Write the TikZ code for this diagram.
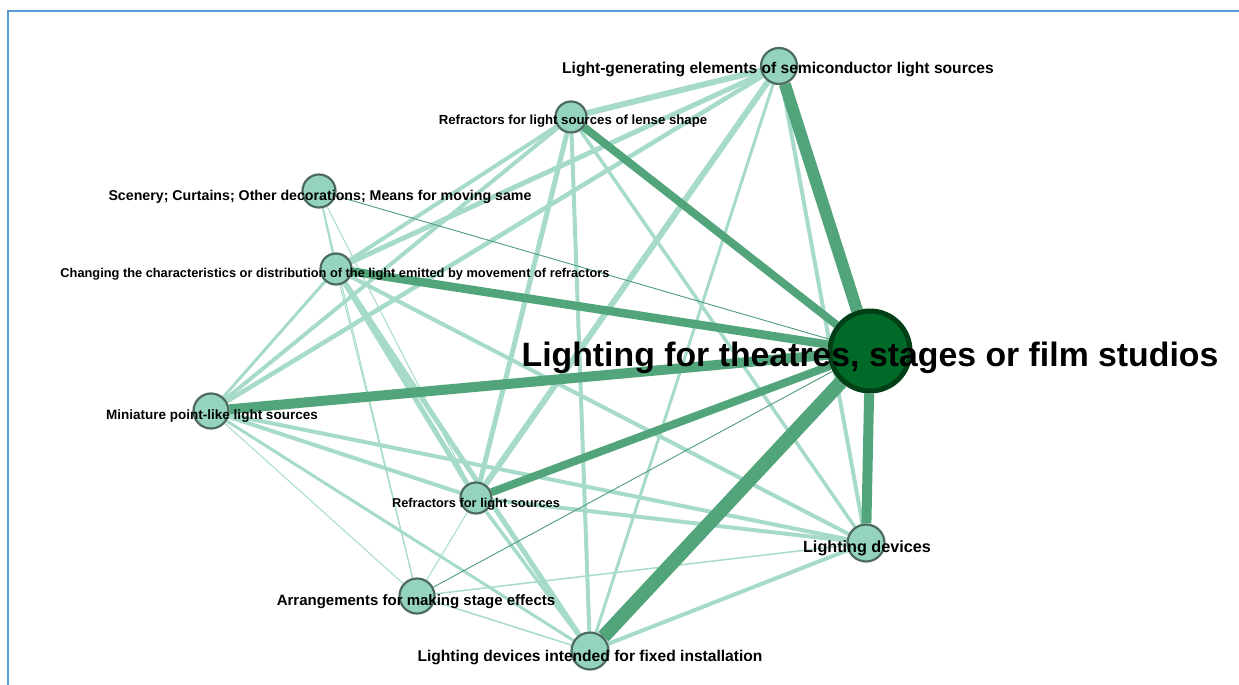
\documentclass[tikz,border=0pt]{standalone}
\usepackage{fontspec}
\setmainfont{Liberation Sans}
\usetikzlibrary{backgrounds}
\definecolor{framecol}{HTML}{5B9BD5}
\definecolor{edgelight}{HTML}{A6DBC9}
\definecolor{edgedark}{HTML}{52A47A}
\definecolor{edgethin}{HTML}{4E9C76}
\definecolor{nodefill}{HTML}{94D4BF}
\definecolor{nodeline}{HTML}{4D6A5E}
\definecolor{hubfill}{HTML}{006A28}
\definecolor{hubline}{HTML}{013F17}
\tikzset{
  nd/.style={circle, fill=nodefill, draw=nodeline, line width=2.2pt, inner sep=0pt, minimum size=#1},
  hub/.style={circle, fill=hubfill, draw=hubline, line width=5pt, inner sep=0pt, minimum size=80pt},
  lbl/.style={font=\bfseries\fontsize{#1}{#1}\selectfont, inner sep=0pt, text=black},
  lt/.style={draw=edgelight, line cap=butt},
  dk/.style={draw=edgedark, line cap=butt},
}
\begin{document}
\begin{tikzpicture}[x=1pt, y=-1pt]
\useasboundingbox (0,0) rectangle (1239,685);
\clip (0,0) rectangle (1239,685);
% outer frame, open to the right and bottom
\draw[framecol, line width=2.6pt] (8,700) -- (8,11) -- (1260,11);

% network nodes
\node[nd=36pt] (A) at (779,66) {};
\node[nd=31pt] (B) at (571,117) {};
\node[nd=33pt] (C) at (319,191) {};
\node[nd=31pt] (D) at (336,269) {};
\node[nd=35pt] (E) at (211,411) {};
\node[nd=31pt] (F) at (476,498) {};
\node[nd=35pt] (G) at (417,596) {};
\node[nd=37pt] (H) at (590,651) {};
\node[nd=37pt] (I) at (866,543) {};
\node[hub] (M) at (870,351) {};

\begin{pgfonlayer}{background}
  % weak links
  \foreach \a/\b/\w in {
      A/B/6, A/D/5, A/E/4.5, A/F/6, A/H/3, A/I/4,
      B/D/4, B/E/4, B/F/5, B/H/4, B/I/3.5,
      C/D/1.5, C/F/1, C/G/1,
      D/E/3, D/F/5, D/H/5, D/I/4, D/G/1,
      E/F/4, E/G/1, E/H/3, E/I/4,
      F/H/3.5, F/I/4, F/G/1,
      G/H/1.5, G/I/1.5, H/I/4}
    \draw[lt, line width=\w pt] (\a) -- (\b);
  % thin strong links
  \draw[draw=edgethin, line width=0.9pt] (C) -- (M);
  \draw[draw=edgethin, line width=0.9pt] (G) -- (M);
  % strong links to the hub
  \foreach \a/\w in {A/12, H/14, I/10, E/10, B/8, D/8.5, F/8}
    \draw[dk, line width=\w pt] (\a) -- (M);
\end{pgfonlayer}

% labels on top of the circles
\node[lbl=15.6] (tA) at (778,70) {Light-generating elements of semiconductor light sources};
\node[lbl=13.2] (tB) at (573,121) {Refractors for light sources of lense shape};
\node[lbl=14.2] (tC) at (320,197) {Scenery; Curtains; Other decorations; Means for moving same};
\node[lbl=12.8] (tD) at (335,274) {Changing the characteristics or distribution of the light emitted by movement of refractors};
\node[lbl=13.5] (tE) at (212,416) {Miniature point-like light sources};
\node[lbl=12.8] (tF) at (476,504) {Refractors for light sources};
\node[lbl=15] (tG) at (416,602) {Arrangements for making stage effects};
\node[lbl=15.6] (tH) at (590,657) {Lighting devices intended for fixed installation};
\node[lbl=16.2] (tI) at (867,548) {Lighting devices};
\node[lbl=33.8] (tM) at (870,358) {Lighting for theatres, stages or film studios};
\end{tikzpicture}
\end{document}
